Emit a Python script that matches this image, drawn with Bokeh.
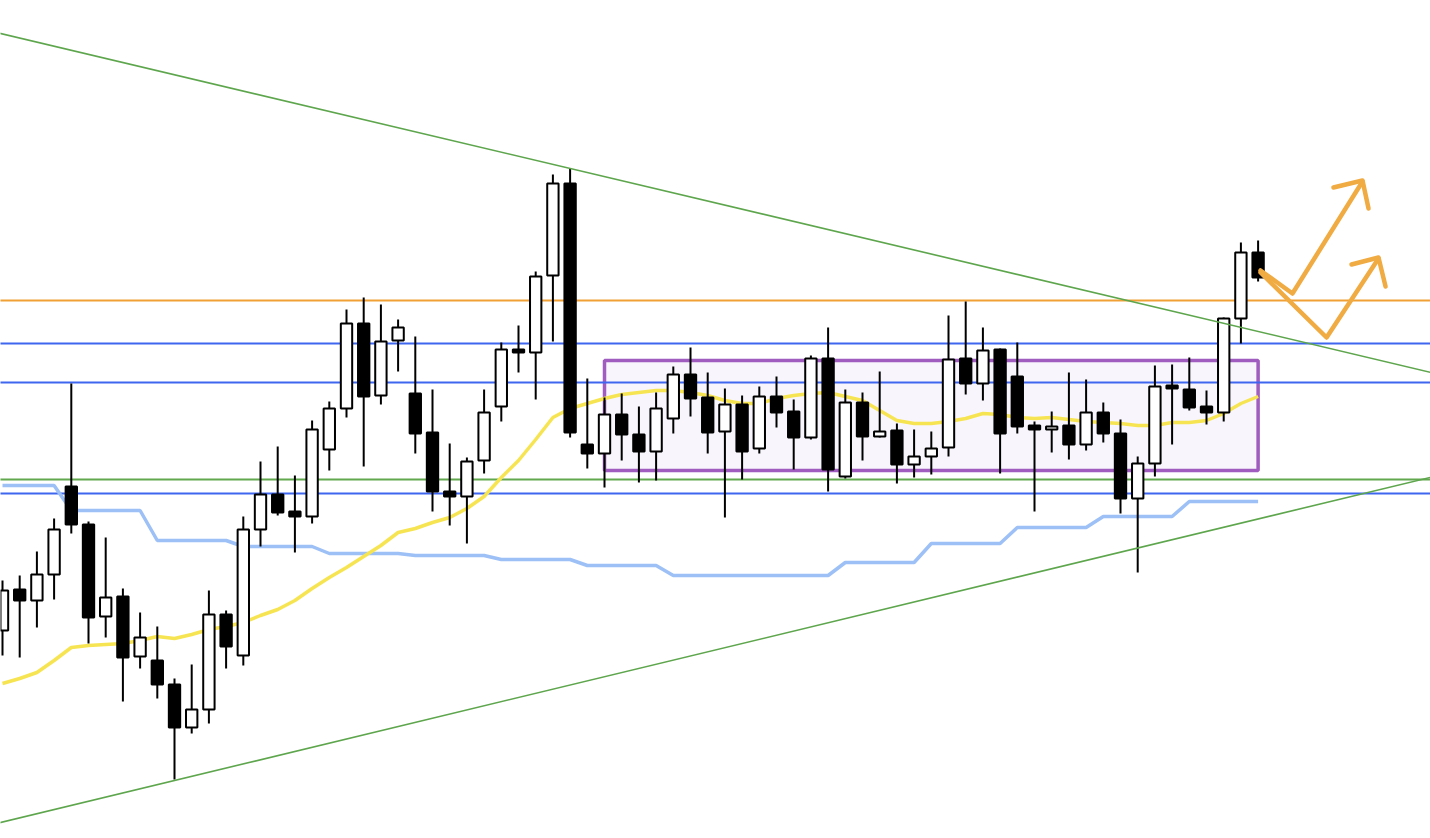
from bokeh.plotting import figure
from bokeh.models import Range1d, Slope, ColumnDataSource
from bokeh.embed import file_html
from bokeh.resources import INLINE

# ---- candle data (index, open, high, low, close) ----
opens  = [370, 411, 400, 426, 514, 476, 384, 404, 344, 340, 316, 273, 291, 386, 345,
          471, 506, 489, 484, 551, 592, 677, 605, 660, 607, 568, 509, 504, 540, 594,
          651, 648, 725, 817, 556, 547, 586, 566, 549, 582, 626, 603, 569, 596, 552,
          604, 589, 563, 642, 524, 598, 564, 570, 536, 544, 553, 642, 617, 651, 624,
          575, 571, 575, 556, 588, 567, 502, 537, 615, 611, 594, 588, 682, 748]
highs  = [420, 425, 449, 482, 617, 479, 463, 412, 388, 374, 322, 336, 410, 390, 484,
          539, 554, 525, 580, 599, 691, 703, 696, 681, 664, 611, 557, 543, 611, 658,
          675, 729, 826, 832, 622, 603, 607, 594, 608, 634, 653, 628, 612, 605, 614,
          624, 601, 645, 673, 611, 608, 629, 577, 571, 569, 685, 699, 673, 652, 658,
          579, 589, 628, 621, 598, 581, 544, 635, 636, 643, 610, 683, 758, 760]
lows   = [345, 343, 373, 401, 467, 357, 363, 299, 332, 302, 221, 267, 277, 332, 335,
          454, 485, 448, 477, 530, 583, 534, 596, 629, 547, 489, 475, 457, 527, 579,
          628, 601, 659, 563, 532, 513, 540, 518, 520, 567, 584, 547, 483, 521, 547,
          573, 531, 561, 509, 522, 540, 563, 517, 523, 526, 544, 606, 600, 527, 567,
          489, 548, 541, 550, 558, 487, 428, 524, 556, 590, 576, 579, 657, 719]
closes = [410, 400, 426, 471, 476, 383, 403, 343, 363, 316, 273, 291, 386, 354, 471,
          506, 488, 484, 571, 592, 677, 604, 659, 673, 567, 509, 504, 539, 588, 651,
          648, 724, 817, 568, 547, 586, 566, 549, 592, 626, 602, 568, 596, 549, 604,
          588, 563, 642, 531, 598, 564, 569, 536, 544, 552, 641, 617, 650, 567, 574,
          571, 574, 556, 588, 567, 502, 537, 614, 612, 593, 588, 682, 748, 723]

# moving average (yellow)
ma = [317, 322, 328, 340, 353, 355, 356, 357, 360, 364, 362, 366, 371, 374, 378,
      385, 391, 400, 412, 423, 433, 444, 455, 468, 472, 478, 483, 492, 504, 523,
      540, 561, 583, 592, 597, 602, 606, 608, 610, 610, 608, 605, 600, 597, 597,
      602, 605, 607, 608, 604, 600, 590, 580, 577, 577, 579, 582, 587, 586, 583,
      582, 583, 581, 579, 578, 577, 575, 575, 578, 578, 580, 587, 597, 604]

# base line (light blue, stepped)
base = [515] * 4 + [490] * 5 + [460] * 5 + [454] * 5 + [447] * 5 + [445] * 5 + \
       [441] * 5 + [435] * 5 + [425] * 10 + [438] * 5 + [457] * 5 + [473] * 5 + \
       [484] * 5 + [499] * 5

# horizontal levels
orange_level = [700]
blue_levels = [657, 618, 507]
green_levels = [521]

# trend lines (value at index 0, slope per candle)
upper_trend = (966.5, -4.075)
lower_trend = (178.5, 4.151)

# range box (index left/right, value bottom/top)
box_left, box_right, box_bottom, box_top = [35], [73], [530], [640]

# scenario arrows
arrow1_x = [73.14, 75.0, 79.07]
arrow1_y = [730, 707, 819]
arrow1_head_x = [77.38, 79.07, 79.42]
arrow1_head_y = [813, 820, 792]
arrow2_x = [73.14, 76.98, 80.0]
arrow2_y = [728, 663, 742]
arrow2_head_x = [78.43, 80.0, 80.41]
arrow2_head_y = [736, 743, 714]

n = len(opens)
idx = list(range(n))

p = figure(width=1430, height=838, output_backend="svg", toolbar_location=None,
           x_range=Range1d(-0.1163, 83.023), y_range=Range1d(162, 1000),
           min_border=0, min_border_left=0, min_border_right=0,
           min_border_top=0, min_border_bottom=0)
p.axis.visible = False
p.xgrid.visible = False
p.ygrid.visible = False
p.outline_line_color = None
p.background_fill_color = "white"
p.border_fill_color = "white"

# box
p.quad(left=box_left, right=box_right, bottom=box_bottom, top=box_top,
       fill_color="#f8f6fc", line_color="#a05cbe", line_width=3.5)

# horizontal lines
xs_full = [-1, 90]
for lv in blue_levels:
    p.line(xs_full, [lv, lv], line_color="#3f66ef", line_width=2)
for lv in green_levels:
    p.line(xs_full, [lv, lv], line_color="#62a84f", line_width=2)
for lv in orange_level:
    p.line(xs_full, [lv, lv], line_color="#f0a035", line_width=2)

# trend lines
for (b, m) in (upper_trend, lower_trend):
    p.add_layout(Slope(gradient=m, y_intercept=b, line_color="#5ea64d", line_width=1.6))

# base line and moving average
p.line(idx, base, line_color="#9dc0f6", line_width=3.5)
p.line(idx, ma, line_color="#f7e452", line_width=3.5)

# candles
src = ColumnDataSource(dict(
    x=idx, high=highs, low=lows,
    top=[max(o, c) for o, c in zip(opens, closes)],
    bottom=[min(o, c) for o, c in zip(opens, closes)],
    fill=["white" if c > o else "black" for o, c in zip(opens, closes)],
))
p.segment(x0="x", y0="low", x1="x", y1="high", source=src,
          line_color="black", line_width=2)
p.vbar(x="x", top="top", bottom="bottom", width=0.66, source=src,
       fill_color="fill", line_color="black", line_width=2)

# arrows
acol = "#f0ab42"
for xs, ys in ((arrow1_x, arrow1_y), (arrow1_head_x, arrow1_head_y),
               (arrow2_x, arrow2_y), (arrow2_head_x, arrow2_head_y)):
    p.line(xs, ys, line_color=acol, line_width=4.5, line_join="round", line_cap="round")

open("out.html", "w").write(file_html(p, INLINE))
